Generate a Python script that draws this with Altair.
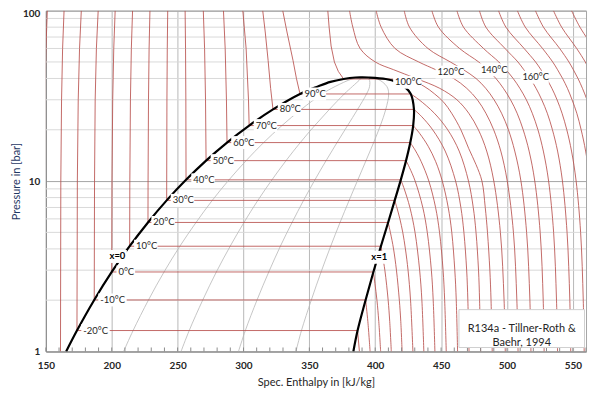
import altair as alt
import pandas as pd

# ---------------- saturation data (R134a) ----------------
SAT_T = [-26.4, -20, -10, 0, 10, 20, 30, 40, 50, 60, 70, 80, 90, 95, 98, 100, 101]
SAT_P = [1.0, 1.327, 2.006, 2.928, 4.146, 5.717, 7.702, 10.166, 13.18, 16.82, 21.17, 26.33, 32.44, 35.9, 38.2, 39.72, 40.52]
SAT_HL = [165.4, 173.6, 186.7, 200.0, 213.6, 227.5, 241.7, 256.4, 271.6, 287.5, 304.3, 322.4, 342.9, 356.5, 366.0, 376.0, 385.0]
SAT_HV = [383.4, 386.6, 392.7, 398.6, 404.3, 409.8, 414.8, 419.4, 423.4, 426.6, 428.8, 429.4, 427.0, 421.9, 416.0, 408.0, 395.0]
CRIT_H = 389.6
CRIT_P = 40.59

# ---------------- quality lines x = 0.2 / 0.4 / 0.6 / 0.8 ----------------
Q_P = [1.0, 1.327, 2.006, 2.928, 4.146, 5.717, 7.702, 10.166, 13.18, 16.82, 21.17, 26.33, 32.44, 35.9, 39.72, 40.59]
Q_02 = [209.0, 216.2, 227.9, 239.7, 251.7, 264.0, 276.3, 289.0, 302.0, 315.3, 329.2, 343.8, 359.7, 369.6, 382.4, 389.6]
Q_04 = [252.6, 258.8, 269.1, 279.4, 289.9, 300.4, 310.9, 321.6, 332.3, 343.1, 354.1, 365.2, 376.5, 382.7, 388.8, 389.6]
Q_06 = [296.2, 301.4, 310.3, 319.2, 328.0, 336.9, 345.6, 354.2, 362.7, 371.0, 379.0, 386.6, 393.4, 395.7, 395.2, 389.6]
Q_08 = [339.8, 344.0, 351.5, 358.9, 366.2, 373.3, 380.2, 386.8, 393.0, 398.8, 403.9, 408.0, 410.2, 408.8, 401.6, 389.6]

# ---------------- isotherms: liquid branch (100 bar -> saturated liquid) ----------------
LIQ_M40 = [(151.1, 100), (150.05, 60), (149.26, 30), (148.5, 1.0)]
LIQ_M30 = [(163.8, 100), (162.7, 60), (161.9, 30), (161.35, 10), (161.1, 1.0)]
LIQ_M20 = [(176.9, 100), (175.56, 60), (174.56, 30), (173.9, 10), (173.6, 1.327)]
LIQ_M10 = [(189.7, 100), (188.35, 60), (187.43, 30), (186.94, 10), (186.7, 2.006)]
LIQ_0 = [(202.6, 100), (201.53, 60), (200.73, 30), (200.19, 10), (200.0, 2.928)]
LIQ_10 = [(215.8, 100), (214.88, 60), (214.19, 30), (213.73, 10), (213.6, 4.146)]
LIQ_20 = [(229.0, 100), (228.36, 60), (227.89, 30), (227.57, 10), (227.5, 5.717)]
LIQ_30 = [(242.5, 100), (242.15, 60), (241.89, 30), (241.72, 10), (241.7, 7.702)]
LIQ_40 = [(255.7, 100), (256.01, 60), (256.25, 30), (256.4, 10.166)]
LIQ_50 = [(269.5, 100), (270.47, 60), (271.19, 30), (271.6, 13.18)]
LIQ_60 = [(284.8, 100), (286.1, 60), (287.07, 30), (287.5, 16.82)]
LIQ_70 = [(299.5, 100), (302.0, 60), (303.8, 30), (304.3, 21.17)]
LIQ_80 = [(314.6, 100), (316.5, 75), (318.7, 51), (320.6, 35), (322.4, 26.33)]
LIQ_90 = [(329.8, 100), (333.0, 75), (337.6, 51), (340.2, 40), (342.9, 32.44)]
LIQ_100 = [(364.0, 100), (365.0, 80), (366.5, 62), (369.0, 50), (372.0, 44), (376.0, 39.72)]

# ---------------- isotherms: vapour branch (saturated vapour -> 1 bar) ----------------
VAP_M20 = [(386.6, 1.327), (388.0, 1.0)]
VAP_M10 = [(392.7, 2.006), (394.4, 1.5), (396.1, 1.0)]
VAP_0 = [(398.6, 2.928), (399.8, 2.5), (401.3, 2.0), (402.7, 1.5), (404.1, 1.0)]
VAP_10 = [(404.3, 4.146), (407.3, 3.0), (409.8, 2.0), (411.0, 1.5), (412.2, 1.0)]
VAP_20 = [(409.8, 5.717), (411.5, 5.0), (413.9, 4.0), (416.1, 3.0), (418.3, 2.0), (419.4, 1.5), (420.4, 1.0)]
VAP_30 = [(414.8, 7.702), (416.4, 7.0), (418.7, 6.0), (420.9, 5.0), (422.9, 4.0), (424.9, 3.0), (426.8, 2.0), (428.6, 1.0)]
VAP_40 = [(419.4, 10.166), (422.0, 9.0), (426.3, 7.0), (430.2, 5.0), (433.7, 3.0), (435.4, 2.0), (436.9, 1.0)]
VAP_50 = [(423.4, 13.18), (426.0, 12.0), (430.3, 10.0), (436.1, 7.0), (439.5, 5.0), (442.6, 3.0), (444.0, 2.0), (445.3, 1.0)]
VAP_60 = [(426.6, 16.82), (430.7, 15.0), (434.9, 13.0), (440.7, 10.0), (445.8, 7.0), (448.8, 5.0), (451.5, 3.0), (452.7, 2.0), (453.9, 1.0)]
VAP_70 = [(428.8, 21.17), (433.8, 19.0), (440.2, 16.0), (445.9, 13.0), (450.9, 10.0), (455.4, 7.0), (458.1, 5.0), (460.4, 3.0), (461.5, 2.0), (462.5, 1.0)]
VAP_80 = [(429.4, 26.33), (435.0, 24.0), (443.6, 20.0), (453.1, 15.0), (461.0, 10.0), (465.0, 7.0), (467.3, 5.0), (469.4, 3.0), (470.3, 2.0), (471.2, 1.0)]
VAP_90 = [(427.0, 32.44), (433.3, 30.0), (444.9, 25.0), (455.0, 20.0), (463.7, 15.0), (470.8, 10.0), (474.4, 7.0), (476.5, 5.0), (478.4, 3.0), (479.2, 2.0), (480.0, 1.0)]
VAP_100 = [(408.0, 39.72), (428.0, 38.5), (437.0, 36.0), (445.0, 32.5), (452.0, 29.0), (458.0, 25.0), (465.0, 20.0), (471.0, 15.5), (476.5, 12.5), (481.0, 10.0), (483.5, 7.0), (485.2, 5.0), (487.0, 3.0), (487.9, 2.0), (488.8, 1.0)]

# ---------------- supercritical isotherms (h at the pressures SC_P) ----------------
SC_P = [100, 80, 60, 50, 45, 40, 35, 30, 25, 20, 15, 10, 5, 2, 1]
SC_110 = [380.5, 383.0, 388.5, 400.0, 414.0, 431.0, 449.0, 462.0, 471.0, 478.3, 484.6, 490.0, 495.0, 497.8, 498.7]
SC_120 = [400.7, 404.5, 415.0, 433.0, 446.0, 459.5, 469.5, 477.5, 484.0, 489.9, 495.3, 500.2, 504.9, 507.5, 508.4]
SC_130 = [422.0, 426.0, 440.0, 457.0, 467.0, 476.5, 483.9, 490.2, 495.9, 501.1, 505.9, 510.6, 514.9, 517.4, 518.2]
SC_140 = [443.0, 448.0, 464.0, 478.5, 485.2, 491.6, 497.3, 502.7, 507.7, 512.3, 516.8, 521.1, 525.2, 527.5, 528.2]
SC_150 = [462.0, 467.0, 482.2, 493.8, 499.2, 504.7, 509.8, 514.7, 519.2, 523.5, 527.6, 531.6, 535.4, 537.6, 538.4]
SC_160 = [479.1, 484.0, 498.5, 508.3, 512.8, 517.6, 522.1, 526.4, 530.6, 534.5, 538.4, 542.1, 545.6, 547.7, 548.4]
SC_170 = [493.6, 499.2, 513.0, 521.7, 525.8, 530.0, 534.1, 538.0, 541.8, 545.4, 549.0, 552.5, 555.9, 557.9, 558.6]
SC_180 = [507.9, 513.9, 527.0, 534.7, 538.4, 542.2, 545.9, 549.4, 553.0, 556.3, 559.7, 563.0, 566.2, 568.1, 568.7]
SC_190 = [521.6, 527.7, 540.0, 547.0, 550.4, 553.9, 557.3, 560.7, 564.0]
SC_200 = [535.3, 541.5, 552.9, 559.4, 562.4]
SC_210 = [549.0, 555.4, 566.0]

# ---------------- labels ----------------
LBL_TEXT = ["-20°C", "-10°C", "0°C", "10°C", "20°C", "30°C", "40°C", "50°C", "60°C",
            "70°C", "80°C", "90°C", "100°C", "120°C", "140°C", "160°C"]
LBL_H = [178.4, 191.3, 205.1, 218.5, 231.6, 246.3, 261.9, 276.6, 292.2,
         309.3, 327.5, 346.4, 415.1, 447.3, 480.2, 511.7]
LBL_P = [1.327, 2.006, 2.928, 4.146, 5.717, 7.702, 10.166, 13.18, 16.82,
         21.17, 26.33, 32.44, 38.0, 43.6, 45.0, 40.7]
QLBL_TEXT = ["x=0", "x=1"]
QLBL_H = [204.3, 403.0]
QLBL_P = [3.61, 3.57]
NOTE_TEXT = "R134a - Tillner-Roth &\nBaehr, 1994"
NOTE_H = 511.2
NOTE_P = 1.363

GRID_MINOR = [2, 3, 4, 5, 6, 7, 8, 9, 20, 30, 40, 50, 60, 70, 80, 90]
X_TICKS = [150, 200, 250, 300, 350, 400, 450, 500, 550]
X_MINOR = list(range(150, 561, 10))

# ---------------- build tables ----------------
RED = "#b8504c"
FONT = "Lato"

lin_rows, cur_rows = [], []
liq = {-40: LIQ_M40, -30: LIQ_M30, -20: LIQ_M20, -10: LIQ_M10, 0: LIQ_0, 10: LIQ_10,
       20: LIQ_20, 30: LIQ_30, 40: LIQ_40, 50: LIQ_50, 60: LIQ_60, 70: LIQ_70,
       80: LIQ_80, 90: LIQ_90, 100: LIQ_100}
vap = {-20: VAP_M20, -10: VAP_M10, 0: VAP_0, 10: VAP_10, 20: VAP_20, 30: VAP_30,
       40: VAP_40, 50: VAP_50, 60: VAP_60, 70: VAP_70, 80: VAP_80, 90: VAP_90, 100: VAP_100}
for t, pts in liq.items():
    seq = list(pts)
    if t in SAT_T:
        k = SAT_T.index(t)
        seq.append((SAT_HV[k], SAT_P[k]))
    for i, (h, p) in enumerate(seq):
        lin_rows.append({"id": f"L{t}", "i": i, "h": h, "p": p})
for t, pts in vap.items():
    for i, (h, p) in enumerate(pts):
        cur_rows.append({"id": f"V{t}", "i": i, "h": h, "p": p})
sc = {110: SC_110, 120: SC_120, 130: SC_130, 140: SC_140, 150: SC_150, 160: SC_160,
      170: SC_170, 180: SC_180, 190: SC_190, 200: SC_200, 210: SC_210}
for t, hs in sc.items():
    for i, h in enumerate(hs):
        cur_rows.append({"id": f"S{t}", "i": i, "h": h, "p": SC_P[i]})
df_lin = pd.DataFrame(lin_rows)
df_cur = pd.DataFrame(cur_rows)

q_rows = []
for name, hs in (("q2", Q_02), ("q4", Q_04), ("q6", Q_06), ("q8", Q_08)):
    for i, h in enumerate(hs):
        q_rows.append({"id": name, "i": i, "h": h, "p": Q_P[i]})
df_q = pd.DataFrame(q_rows)

sat_pts = list(zip(SAT_HL, SAT_P)) + [(CRIT_H, CRIT_P)] + list(zip(SAT_HV, SAT_P))[::-1]
df_sat = pd.DataFrame([{"i": i, "h": h, "p": p} for i, (h, p) in enumerate(sat_pts)])

def box_left(txt):
    w = 4.9 * len(txt) + 2
    return f"M-2,-6.5H{w:.1f}V6.5H-2Z"

def box_center(txt):
    w = (5.0 * len(txt) + 4) / 2
    return f"M-{w:.1f},-6.5H{w:.1f}V6.5H-{w:.1f}Z"

df_lbl = pd.DataFrame({"t": LBL_TEXT, "h": LBL_H, "p": LBL_P,
                       "shape": [box_left(s) for s in LBL_TEXT]})
df_qlbl = pd.DataFrame({"t": QLBL_TEXT, "h": QLBL_H, "p": QLBL_P,
                        "shape": [box_center(s) for s in QLBL_TEXT]})
df_note = pd.DataFrame({"t": [NOTE_TEXT], "h": [NOTE_H], "p": [NOTE_P]})
df_grid = pd.DataFrame({"p": GRID_MINOR})
df_xt = pd.DataFrame({"h": X_MINOR})

# ---------------- encodings ----------------
xs = alt.Scale(domain=[150, 560], nice=False, zero=False)
ys = alt.Scale(type="log", domain=[1, 100], nice=False)
x_axis = alt.Axis(values=X_TICKS, title="Spec. Enthalpy in [kJ/kg]", grid=True,
                  gridColor="#b8b8b8", ticks=False, domainColor="#8c8c8c",
                  labelFlush=False, labelOverlap=False,
                  labelFont=FONT, labelFontSize=10, labelFontWeight="bold",
                  labelColor="#262626", labelPadding=9,
                  titleFont=FONT, titleFontSize=11, titleFontWeight="normal",
                  titleColor="#262626", titleY=31, titleBaseline="middle")
y_axis = alt.Axis(values=[1, 10, 100], format="d", title="Pressure in [bar]", grid=True,
                  gridColor="#a6a6a6", ticks=False, domainColor="#8c8c8c",
                  labelFlush=False, labelOverlap=False,
                  labelOffset={"condition": {"test": "datum.value >= 100", "value": 2.5},
                               "value": 0},
                  labelFont=FONT, labelFontSize=10, labelFontWeight="bold",
                  labelColor="#262626", labelPadding=6,
                  titleFont=FONT, titleFontSize=11, titleFontWeight="normal",
                  titleColor="#1f3864", titleX=-29, titleY=171,
                  titleAlign="center", titleBaseline="middle")
X = alt.X("h:Q", scale=xs, axis=x_axis)
Y = alt.Y("p:Q", scale=ys, axis=y_axis)

grid = alt.Chart(df_grid).mark_rule(color="#d9d9d9", strokeWidth=1).encode(y=Y)
qlines = alt.Chart(df_q).mark_line(color="#b8b8b8", strokeWidth=0.8,
                                   interpolate="catmull-rom", clip=True).encode(
    x=X, y=Y, detail="id:N", order="i:Q")
iso_lin = alt.Chart(df_lin).mark_line(color=RED, strokeWidth=0.85, clip=True).encode(
    x=X, y=Y, detail="id:N", order="i:Q")
iso_cur = alt.Chart(df_cur).mark_line(color=RED, strokeWidth=0.85, interpolate="catmull-rom",
                                      clip=True).encode(
    x=X, y=Y, detail="id:N", order="i:Q")
sat = alt.Chart(df_sat).mark_line(color="black", strokeWidth=2.2,
                                  interpolate="catmull-rom", clip=True).encode(
    x=X, y=Y, order="i:Q")
minor_ticks = alt.Chart(df_xt).mark_rule(color="#8c8c8c", strokeWidth=1).encode(
    x=X, y=alt.value(338), y2=alt.value(342))

lbl_box = alt.Chart(df_lbl).mark_point(filled=True, size=4, color="white", opacity=1,
                                       strokeWidth=0).encode(
    x=X, y=Y, shape=alt.Shape("shape:N", scale=None, legend=None))
lbl_txt = alt.Chart(df_lbl).mark_text(align="left", baseline="middle", font=FONT,
                                      fontSize=9.5, color="#262626").encode(x=X, y=Y, text="t:N")
q_box = alt.Chart(df_qlbl).mark_point(filled=True, size=4, color="white", opacity=1,
                                      strokeWidth=0).encode(
    x=X, y=Y, shape=alt.Shape("shape:N", scale=None, legend=None))
q_txt = alt.Chart(df_qlbl).mark_text(align="center", baseline="middle", font=FONT,
                                     fontSize=9.5, fontWeight="bold", color="#000000").encode(
    x=X, y=Y, text="t:N")
note_box = alt.Chart(df_note).mark_point(shape="M-63,-19H63V19H-63Z", size=4, filled=True,
                                         fill="white", stroke="#d0d0d0", strokeWidth=1,
                                         opacity=1).encode(x=X, y=Y)
note_txt = alt.Chart(df_note).mark_text(align="center", baseline="middle", font=FONT,
                                        fontSize=11, lineHeight=15, lineBreak="\n",
                                        color="#262626").encode(x=X, y=Y, text="t:N")

chart = alt.layer(grid, qlines, iso_lin, iso_cur, sat, minor_ticks,
                  lbl_box, lbl_txt, q_box, q_txt, note_box, note_txt).properties(
    width=542, height=342,
    autosize=alt.AutoSizeParams(type="none"),
    padding={"left": 38, "top": 2, "right": 6, "bottom": 40},
    background="white",
).configure_view(stroke="#a6a6a6", strokeWidth=1)

chart.save("out.html", embed_options={"renderer": "svg", "actions": False})
